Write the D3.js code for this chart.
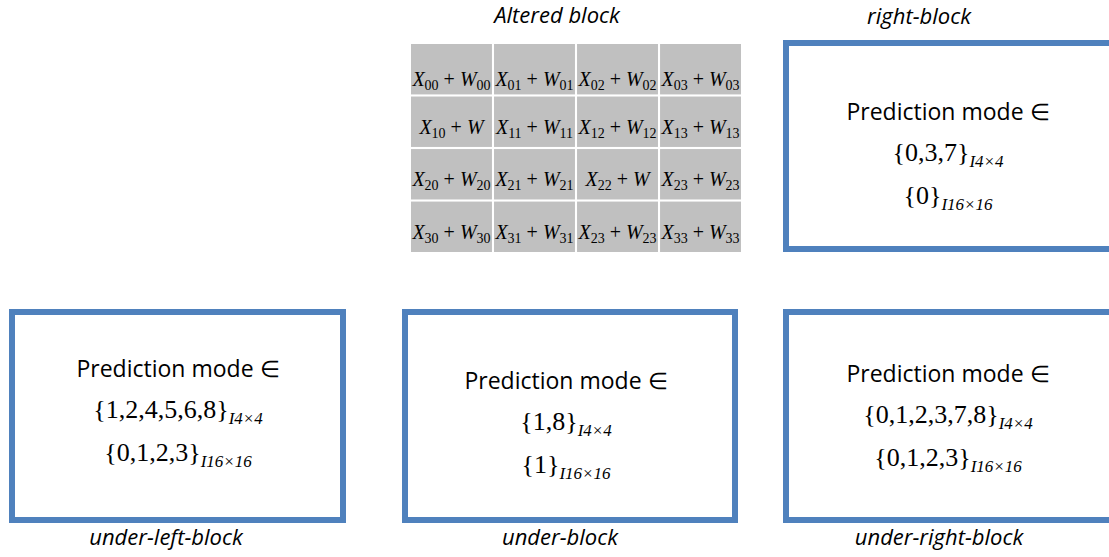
<!DOCTYPE html>
<html>
<head>
    <meta charset="UTF-8">
    <title>Altered block</title>
    <script src="https://d3js.org/d3.v7.min.js"></script>
    <style>
        body { margin: 0; background-color: #ffffff; }
        .lbl { font-family: "Open Sans", sans-serif; font-style: italic; font-size: 22px; fill: #000; }
        .head { font-family: "Open Sans", sans-serif; font-size: 23px; fill: #000; }
        .math { font-family: "Liberation Serif", serif; fill: #000; }
    </style>
</head>
<body>
    <div id="chart"></div>
    <script>
        (function(d3) {

            var width = 1109;
            var height = 557;

            // data
            var gridTitle = 'Altered block';
            var gridRows = ['0', '1', '2', '3'];
            var gridCols = ['0', '1', '2', '3'];
            var xSubs = [
                ['00', '01', '02', '03'],
                ['10', '11', '12', '13'],
                ['20', '21', '22', '23'],
                ['30', '31', '23', '33']
            ];
            var wSubs = [
                ['00', '01', '02', '03'],
                ['', '11', '12', '13'],
                ['20', '21', '', '23'],
                ['30', '31', '23', '33']
            ];
            var blockNames = ['right-block', 'under-left-block', 'under-block', 'under-right-block'];
            var blockHead = 'Prediction mode \u2208';
            var i4Sets = ['0,3,7', '1,2,4,5,6,8', '1,8', '0,1,2,3,7,8'];
            var i16Sets = ['0', '0,1,2,3', '1', '0,1,2,3'];
            var i4Label = 'I4\u00d74';
            var i16Label = 'I16\u00d716';

            // layout of the frames (stroke centre lines)
            var frames = [
                { x: 786, y: 43, w: 360, h: 206, cx: 948, base: 120, lx: 919, ly: 24 },
                { x: 12, y: 312, w: 331, h: 208, cx: 178, base: 377, lx: 166, ly: 545 },
                { x: 405, y: 312, w: 330, h: 208, cx: 566, base: 389, lx: 560, ly: 545 },
                { x: 786, y: 312, w: 360, h: 208, cx: 948, base: 382, lx: 939, ly: 545 }
            ];

            var svg = d3.select('#chart')
                .append('svg')
                    .attr('width', width)
                    .attr('height', height);

            // grid of altered block
            var xBand = d3.scaleBand().domain(gridCols).range([411, 741]).paddingInner(0.025);
            var yBand = d3.scaleBand().domain(gridRows).range([44, 252]).paddingInner(0.04);

            var cells = [];
            gridRows.forEach(function(r, i) {
                gridCols.forEach(function(c, j) {
                    cells.push({ row: r, col: c, xs: xSubs[i][j], ws: wSubs[i][j] });
                });
            });

            svg.append('text')
                .attr('class', 'lbl')
                .attr('x', 557)
                .attr('y', 23)
                .attr('text-anchor', 'middle')
                .text(gridTitle);

            var cell = svg.selectAll('.cell')
                .data(cells)
                .enter()
                .append('g')
                .attr('class', 'cell');

            cell.append('rect')
                .attr('x', function(d) { return xBand(d.col); })
                .attr('y', function(d) { return yBand(d.row); })
                .attr('width', xBand.bandwidth())
                .attr('height', yBand.bandwidth())
                .attr('fill', '#c0c0c0');

            var ct = cell.append('text')
                .attr('class', 'math')
                .attr('x', function(d) { return xBand(d.col) + xBand.bandwidth() / 2; })
                .attr('y', function(d) { return yBand(d.row) + yBand.bandwidth() - (d.row === '0' ? 8 : 13); })
                .attr('text-anchor', 'middle')
                .style('font-size', '20px');

            ct.append('tspan').style('font-style', 'italic').text('X');
            ct.append('tspan').attr('dy', 4).style('font-size', '14px').text(function(d) { return d.xs; });
            ct.append('tspan').attr('dy', -4).text(' + ');
            ct.append('tspan').style('font-style', 'italic').text('W');
            ct.append('tspan').attr('dy', 4).style('font-size', '14px').text(function(d) { return d.ws; });

            // prediction blocks
            var blocks = blockNames.map(function(name, i) {
                return { name: name, s4: i4Sets[i], s16: i16Sets[i], f: frames[i] };
            });

            var blk = svg.selectAll('.block')
                .data(blocks)
                .enter()
                .append('g')
                .attr('class', 'block');

            blk.append('rect')
                .attr('x', function(d) { return d.f.x; })
                .attr('y', function(d) { return d.f.y; })
                .attr('width', function(d) { return d.f.w; })
                .attr('height', function(d) { return d.f.h; })
                .attr('fill', 'none')
                .attr('stroke', '#4f81bd')
                .attr('stroke-width', 6);

            blk.append('text')
                .attr('class', 'head')
                .attr('x', function(d) { return d.f.cx; })
                .attr('y', function(d) { return d.f.base; })
                .attr('text-anchor', 'middle')
                .text(blockHead);

            function setLine(sel, key, sub, off) {
                var t = sel.append('text')
                    .attr('class', 'math')
                    .attr('x', function(d) { return d.f.cx; })
                    .attr('y', function(d) { return d.f.base + off; })
                    .attr('text-anchor', 'middle')
                    .style('font-size', '26px');
                t.append('tspan').text(function(d) { return '{' + d[key] + '}'; });
                t.append('tspan').attr('dy', 6).style('font-size', '17px').style('font-style', 'italic').text(sub);
            }
            setLine(blk, 's4', i4Label, 41);
            setLine(blk, 's16', i16Label, 84);

            blk.append('text')
                .attr('class', 'lbl')
                .attr('x', function(d) { return d.f.lx; })
                .attr('y', function(d) { return d.f.ly; })
                .attr('text-anchor', 'middle')
                .text(function(d) { return d.name; });

        })(window.d3);
    </script>
</body>
</html>
